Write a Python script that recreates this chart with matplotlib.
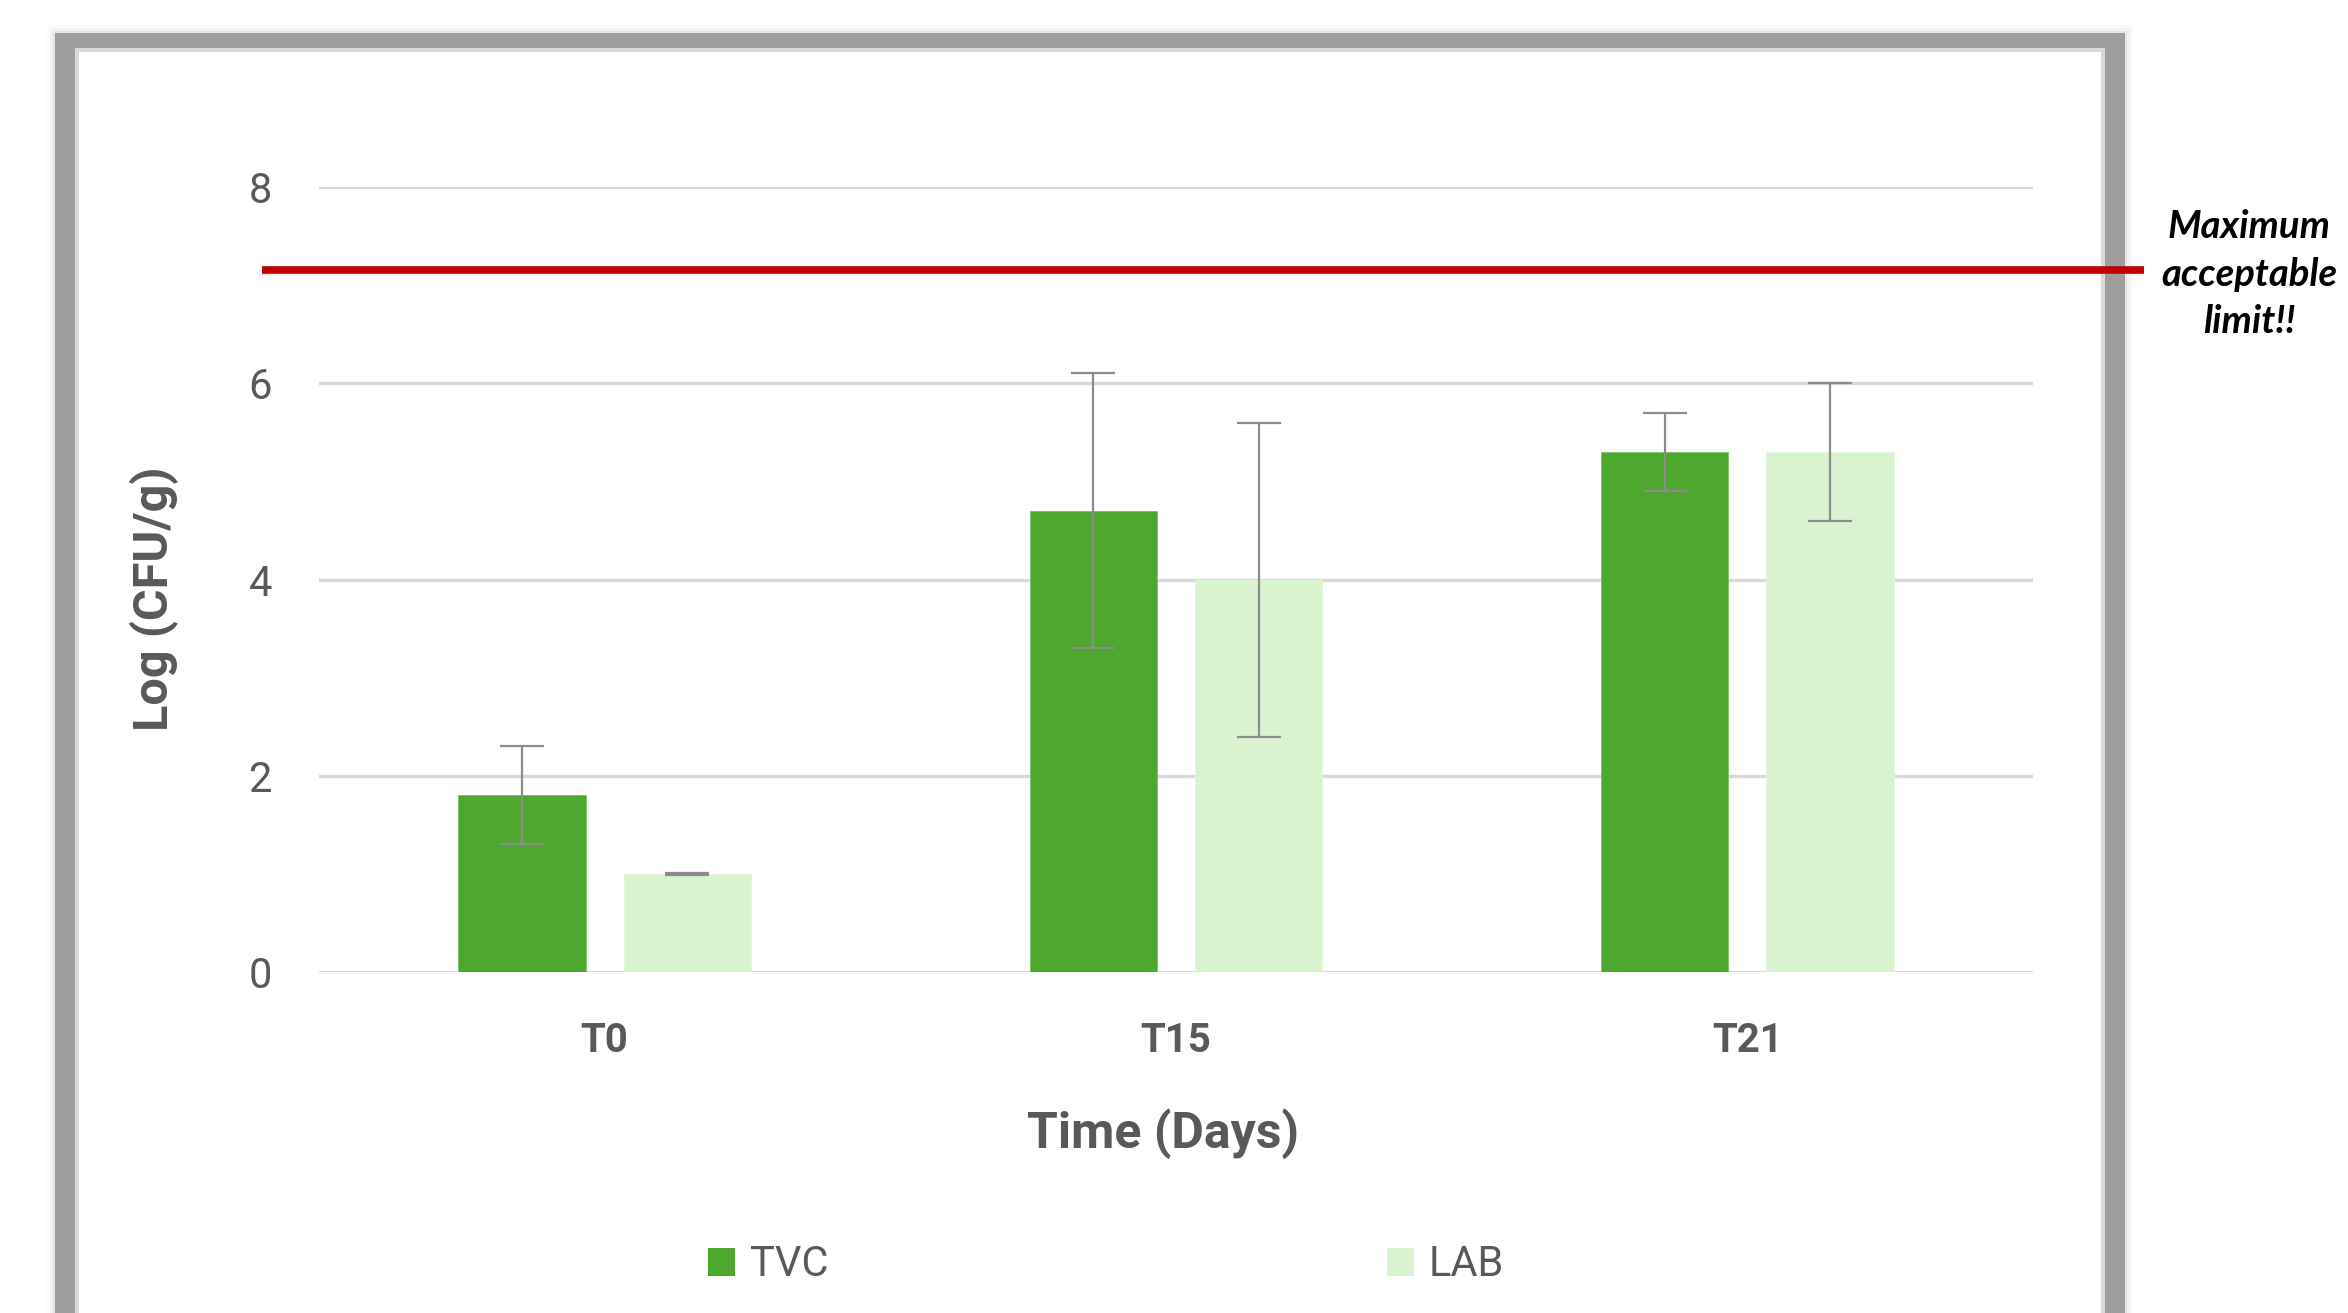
import numpy as np
import matplotlib
matplotlib.use("Agg")
import matplotlib.pyplot as plt
from matplotlib.patches import Rectangle, Patch

# data
days = ["T0", "T15", "T21"]
tvc = [1.8, 4.7, 5.3]
tvc_err = [0.5, 1.4, 0.4]
lab = [1.0, 4.0, 5.3]
lab_err = [0.01, 1.6, 0.7]
limit = 7.15
yticks = [0, 2, 4, 6, 8]

W, H = 2348, 1313
fig = plt.figure(figsize=(W / 100, H / 100), dpi=100)

def px(x0, y0, x1, y1):
    # figure pixel box (top-left origin) -> figure fraction rect
    return (x0 / W, 1 - y1 / H), (x1 - x0) / W, (y1 - y0) / H

# gray frame with soft shadow
for d, a in [(8, 0.05), (5, 0.08), (2, 0.15)]:
    xy, w, h = px(55 - d, 33 - d, 2125 + d, H + 20)
    fig.add_artist(Rectangle(xy, w, h, transform=fig.transFigure,
                             facecolor="#9e9e9e", alpha=a, lw=0, zorder=0))
xy, w, h = px(55, 33, 2125, H + 20)
fig.add_artist(Rectangle(xy, w, h, transform=fig.transFigure,
                         facecolor="#9e9e9e", lw=0, zorder=0))
xy, w, h = px(75, 48, 2105, H + 20)
fig.add_artist(Rectangle(xy, w, h, transform=fig.transFigure,
                         facecolor="#d9d9d9", lw=0, zorder=0))
xy, w, h = px(79, 52, 2101, H + 20)
fig.add_artist(Rectangle(xy, w, h, transform=fig.transFigure,
                         facecolor="white", lw=0, zorder=0))

ax = fig.add_axes([319 / W, 1 - 972 / H, (2033 - 319) / W, (972 - 187) / H])
ax.patch.set_alpha(0)

x = np.arange(len(days))
bw = 0.223
off = bw / 2 + 0.033
ekw = dict(ecolor="#8c8c8c", elinewidth=1.6, capthick=1.6)
ax.bar(x - off, tvc, bw, yerr=tvc_err, capsize=16, color="#4ea72e",
       edgecolor="#7cc060", linewidth=0.6, label="TVC", error_kw=ekw, zorder=3)
ax.bar(x + off, lab, bw, yerr=lab_err, capsize=16, color="#d9f2d0",
       edgecolor="#e4f6dd", linewidth=0.6, label="LAB", error_kw=ekw, zorder=3)

ax.set_xlim(-0.5, 2.5)
ax.set_ylim(0, 8)
ax.set_yticks(yticks)
ax.set_xticks(x)
ax.set_xticklabels(days, fontsize=29, fontweight="bold", color="#595959",
                   family="Roboto")
ax.set_yticklabels([str(t) for t in yticks], fontsize=30, color="#595959",
                   family="Roboto")
ax.tick_params(axis="both", length=0)
ax.tick_params(axis="y", pad=34)
ax.tick_params(axis="x", pad=36)
ax.grid(axis="y", color="#d9d9d9", linewidth=2.4, zorder=0)
ax.set_axisbelow(True)
for s in ax.spines.values():
    s.set_visible(False)

# max limit line running over the frame
ax.hlines(limit, -0.0333, 1.0648, transform=ax.get_yaxis_transform(),
          color="#c00000", linewidth=5.5, clip_on=False, zorder=5)

fig.text(2249 / W, 1 - 274 / H, "Maximum\nacceptable\nlimit!!", ha="center",
         va="center", multialignment="center", fontsize=27.5, fontweight="bold",
         fontstyle="italic", family="Lato", color="black", linespacing=1.42)

fig.text(1163 / W, 1 - 1134 / H, "Time (Days)", ha="center", va="center",
         fontsize=36, fontweight="bold", color="#595959", family="Roboto")
fig.text(154 / W, 1 - 599 / H, "Log (CFU/g)", ha="center", va="center",
         rotation=90, fontsize=35, fontweight="bold", color="#595959",
         family="Roboto")

handles = [Patch(facecolor="#4ea72e", label="TVC"),
           Patch(facecolor="#d9f2d0", label="LAB")]
leg = fig.legend(handles=handles, loc="center", ncol=2,
                 bbox_to_anchor=(1106 / W, 1 - 1265 / H), frameon=False,
                 fontsize=30, handlelength=0.65, handleheight=0.65,
                 handletextpad=0.35, columnspacing=13.4)
for t in leg.get_texts():
    t.set_color("#595959")
    t.set_family("Roboto")

fig.savefig("out.png", dpi=100)
